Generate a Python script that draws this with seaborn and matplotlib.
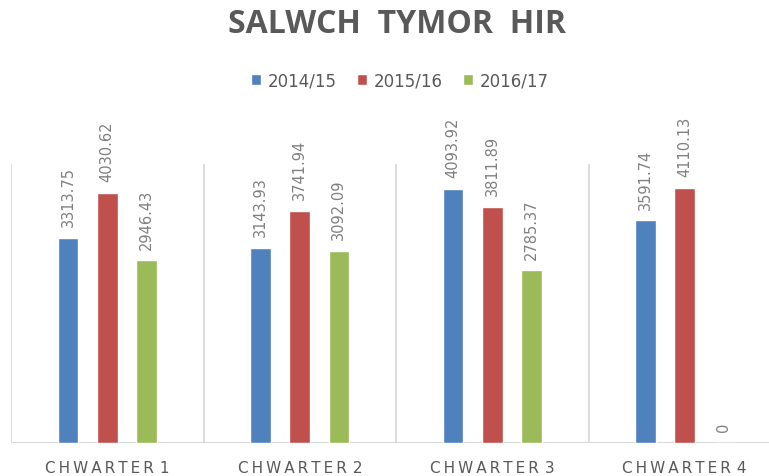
import pandas as pd
import seaborn as sns
import matplotlib.pyplot as plt

# data
quarters = ['CHWARTER 1', 'CHWARTER 2', 'CHWARTER 3', 'CHWARTER 4']
years = ['2014/15', '2015/16', '2016/17']
v1415 = [3313.75, 3143.93, 4093.92, 3591.74]
v1516 = [4030.62, 3741.94, 3811.89, 4110.13]
v1617 = [2946.43, 3092.09, 2785.37, 0]
colors = ['#4F81BD', '#C0504D', '#9BBB59']

df = pd.DataFrame({
    'quarter': quarters * 3,
    'year': [years[0]] * 4 + [years[1]] * 4 + [years[2]] * 4,
    'value': v1415 + v1516 + v1617,
})

sns.set_style('white')
plt.rcParams['font.family'] = ['DejaVu Sans']

fig = plt.figure(figsize=(7.69, 4.77), dpi=100)
ax = fig.add_axes([11/769, 33/477, 758/769, 279/477])

sns.barplot(data=df, x='quarter', y='value', hue='year', palette=colors,
            width=0.608, gap=0.474, ax=ax, saturation=1, errorbar=None)

ax.set_xlim(-0.5, -0.5 + 758/192.5)
ax.set_ylim(0, 4500)

# value labels
for cont, vals in zip(ax.containers, [v1415, v1516, v1617]):
    labs = ['0' if v == 0 else '%.2f' % v for v in vals]
    ax.bar_label(cont, labels=labs, rotation=90, padding=8.5,
                 fontsize=10.5, color='#808080', clip_on=False)

# separators + baseline
ax.vlines([-0.5, 0.5, 1.5, 2.5], 0, 4500, color='#d9d9d9', lw=1.3, zorder=0)
ax.axhline(0, color='#d9d9d9', lw=1.5, zorder=0)
sns.despine(ax=ax, left=True, bottom=True)

ax.set_yticks([])
ax.set_xlabel('')
ax.set_ylabel('')
# spaced-out category labels
ax.set_xticks(range(len(quarters)))
ax.set_xticklabels(['\u2009'.join(q.replace(' ', '')[:-1]) + '\u2009\u2009' + q[-1] for q in quarters])
ax.tick_params(axis='x', length=0, pad=12, labelsize=11, labelcolor='#595959')

ax.legend(loc='center', bbox_to_anchor=(0.52, 0.83), bbox_transform=fig.transFigure,
          ncol=3, frameon=False, fontsize=12, handlelength=0.6, handleheight=0.6,
          handletextpad=0.4, columnspacing=1.2, labelcolor='#595959')

fig.text(0.516, 0.949, 'SALWCH  TYMOR  HIR', ha='center', va='center',
         fontsize=23, fontweight='bold', color='#595959', family=['Open Sans', 'DejaVu Sans'])

plt.savefig('out.png', dpi=100)
